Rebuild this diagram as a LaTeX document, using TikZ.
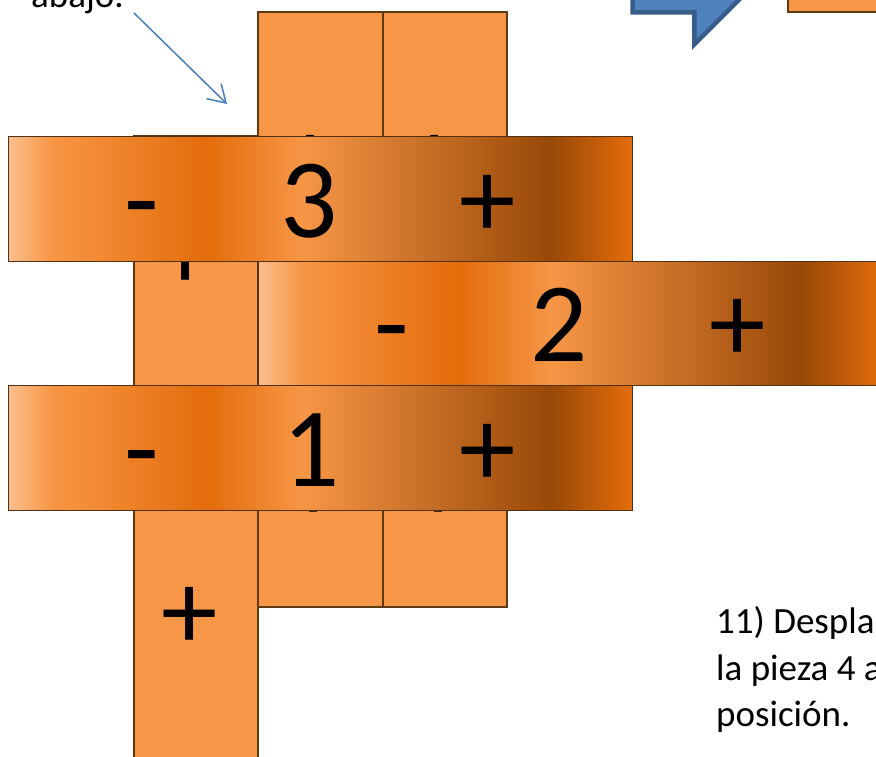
\documentclass[tikz,border=0pt]{standalone}
\usepackage{fontspec}
\setmainfont{Carlito}
\usetikzlibrary{arrows.meta}
\definecolor{piecefill}{HTML}{F79646}
\definecolor{pieceline}{HTML}{5E3A12}
\definecolor{barline}{HTML}{4E3117}
\definecolor{peach}{HTML}{FAC08F}
\definecolor{orlight}{HTML}{F79646}
\definecolor{ordark}{HTML}{E46C0A}
\definecolor{orbrown}{HTML}{984807}
\definecolor{arrowfill}{HTML}{4F81BD}
\definecolor{arrowline}{HTML}{385D8A}
\definecolor{calloutcol}{HTML}{4A7EBB}
\pgfdeclarehorizontalshading{barshade}{100bp}{color(0bp)=(peach); color(25bp)=(peach); color(28.5bp)=(orlight); color(41bp)=(ordark); color(48.5bp)=(orlight); color(68.5bp)=(orbrown); color(75bp)=(ordark); color(100bp)=(ordark)}

\begin{document}
\begin{tikzpicture}[x=1pt, y=-1pt,
    >={Straight Barb[length=17pt,width=21pt]},
    piece/.style={rectangle, draw=pieceline, fill=piecefill, line width=1.2pt, inner sep=0pt},
    bar/.style={rectangle, draw=barline, line width=1pt, shading=barshade, minimum width=624pt, minimum height=124.5pt, inner sep=0pt},
    sign/.style={font=\fontsize{113}{113}\selectfont, inner sep=0pt, anchor=base},
    note/.style={font=\fontsize{37}{46}\selectfont, inner sep=0pt, anchor=base west},
]
\useasboundingbox (0,0) rectangle (876,757);
\clip (0,0) rectangle (876,757);

\draw[line width=4.5pt, draw=arrowline, fill=arrowfill] (632.5,-10) -- (632.5,12.5) -- (694.3,12.5) -- (694.3,44.5) -- (748.8,-10) -- cycle;
\draw[piece] (788,-10) rectangle (890,12);

\node[piece, minimum width=124pt, minimum height=624pt] (colA) at (196,448) {};
\node[piece, minimum width=125pt, minimum height=595pt] (colB) at (320.5,309.5) {};
\node[piece, minimum width=124pt, minimum height=595pt] (colC) at (445,309.5) {};
\node[sign] (colAtop) at (186,289.5) {+};
\node[sign] (colAbot) at (190,649) {+};
\node[sign] (colBtop) at (311,197) {+};
\node[sign] (colBbot) at (314,521.5) {+};
\node[sign] (colCtop) at (435,197) {+};
\node[sign] (colCbot) at (439,521.5) {+};

\node[bar] (bar3) at (320,199) {};
\node[sign] (bar3m) at (142,237) {-};
\node[sign] (bar3n) at (309,237) {3};
\node[sign] (bar3p) at (488,237) {+};

\node[bar] (bar2) at (570,323.5) {};
\node[sign] (bar2m) at (392,361) {-};
\node[sign] (bar2n) at (559,361) {2};
\node[sign] (bar2p) at (738,361) {+};

\node[bar] (bar1) at (320,448) {};
\node[sign] (bar1m) at (142,486) {-};
\node[sign] (bar1n) at (311,486) {1};
\node[sign] (bar1p) at (488,486) {+};

\node[note] (lbl) at (31,8) {abajo.};
\coordinate (calltip) at (227,104);
\draw[->, calloutcol, line width=1.5pt] ([shift={(10,5)}]lbl.base east) -- (calltip);

\node[note] (step1) at (716,633) {11) Despla};
\node[note] (step2) at (716,680) {la pieza 4 a};
\node[note] (step3) at (716,726) {posición.};
\end{tikzpicture}
\end{document}
